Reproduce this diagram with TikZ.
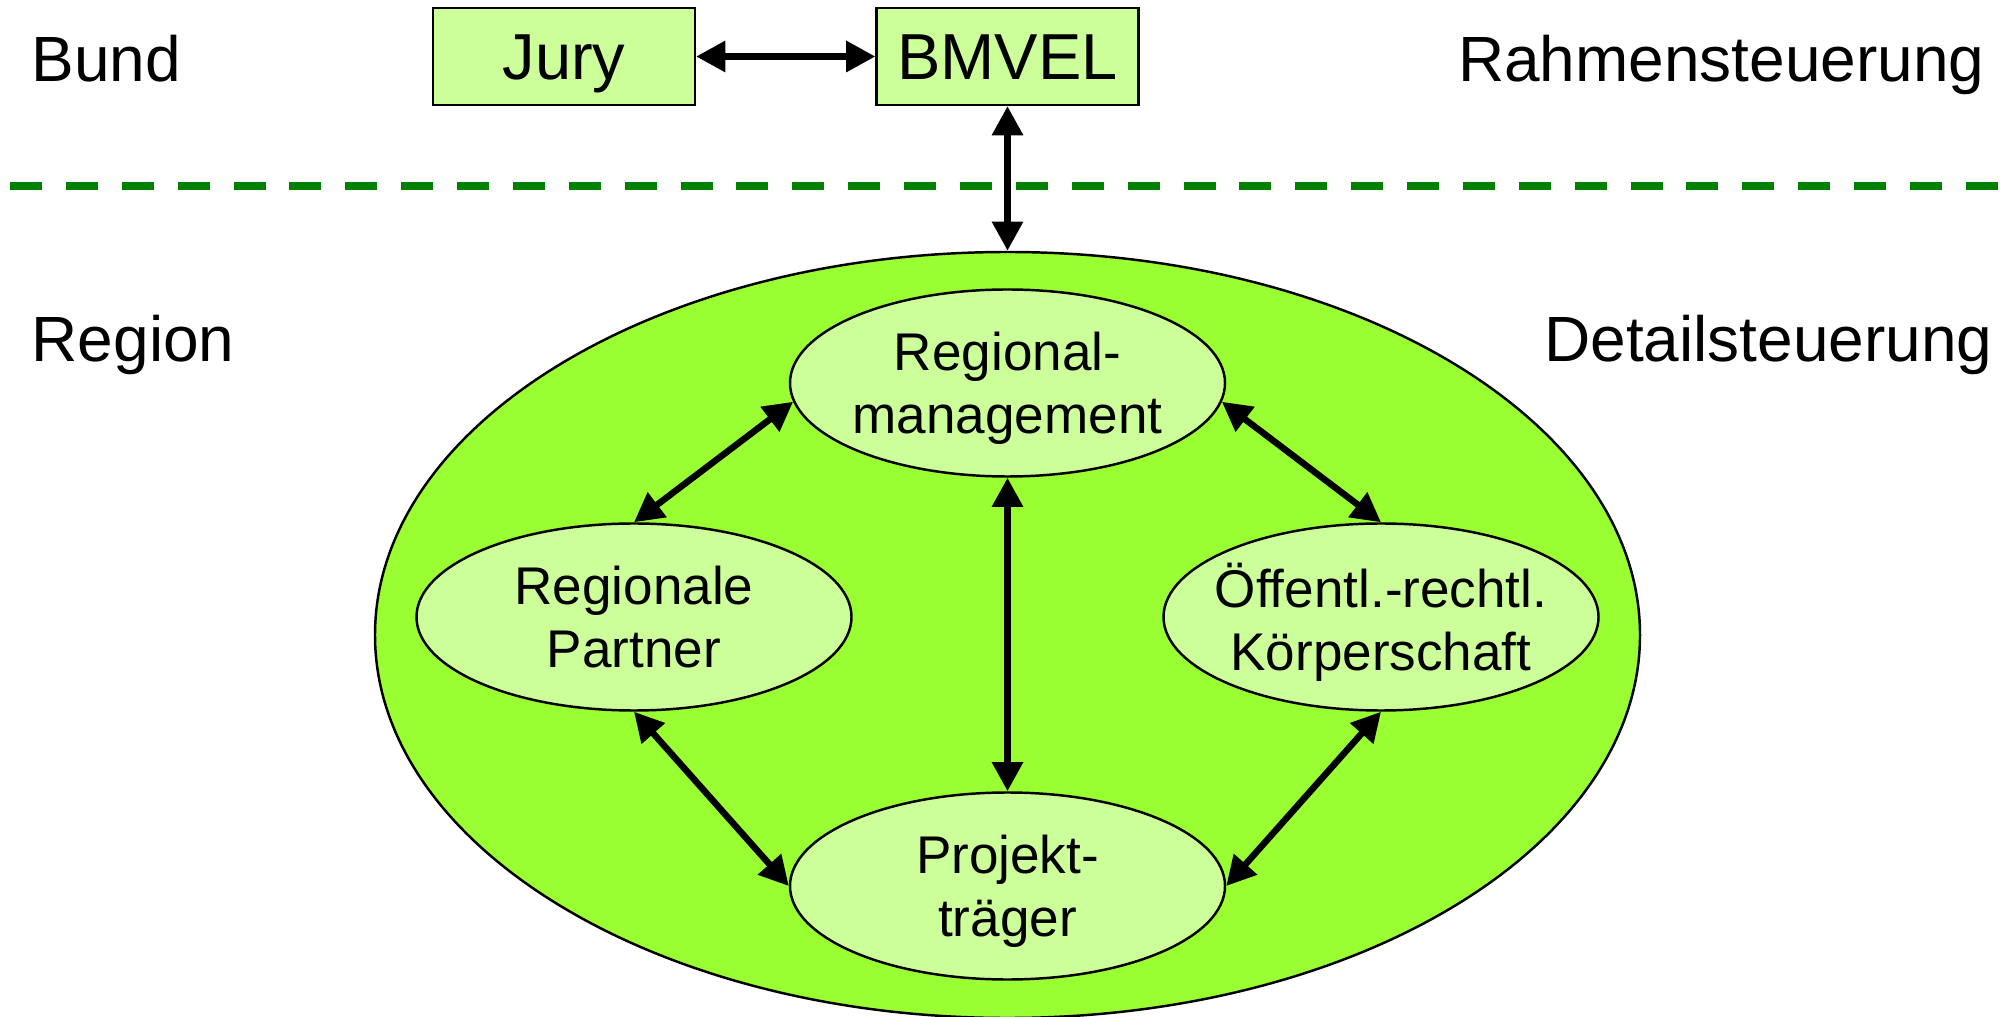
\documentclass[tikz,border=0pt]{standalone}
\usepackage{fontspec}
\setmainfont{Liberation Sans}
\usetikzlibrary{arrows.meta,shapes.geometric}
\definecolor{boxgreen}{HTML}{CCFF99}
\definecolor{regiongreen}{HTML}{99FF33}
\definecolor{linegreen}{HTML}{008000}

\begin{document}
\begin{tikzpicture}[
        box/.style={draw, line width=0.65pt, fill=boxgreen, minimum width=2.62cm, minimum height=0.97cm, inner sep=0pt, text height=13.2pt, text depth=0pt, font=\fontsize{18.5}{22}\selectfont},
        blob/.style={ellipse, draw, line width=0.7pt, fill=boxgreen, inner xsep=-0.15cm, inner ysep=0pt, minimum width=4.35cm, minimum height=1.87cm, align=center, text depth=-2pt, font=\fontsize{15.1}{17.9}\selectfont},
        level/.style={inner sep=0pt, font=\fontsize{18.2}{21}\selectfont},
        link/.style={line width=1.85pt, {Triangle[length=8.3pt,width=8.5pt]}-{Triangle[length=8.3pt,width=8.5pt]}}
    ]
        \useasboundingbox (0,0) rectangle (20.07,10.16);
        % Ebenen
        \node[level, anchor=base west] (bund) at (0.31,9.34) {Bund};
        \node[level, anchor=base east] (rahmen) at (19.85,9.34) {Rahmensteuerung};
        \node[level, anchor=base west] (region) at (0.31,6.54) {Region};
        \node[level, anchor=base east] (detail) at (19.93,6.54) {Detailsteuerung};
        \draw[linegreen, line width=2.3pt, dash pattern=on 9.1pt off 6.8pt] (0.10,8.30) -- (20.00,8.30);
        % Bund
        \node[box] (jury) at (5.64,9.595) {Jury};
        \node[box] (bmvel) at (10.075,9.595) {BMVEL};
        \draw[link] (jury) -- (bmvel);
        % Region
        \node[ellipse, draw, line width=0.7pt, fill=regiongreen, minimum width=12.65cm, minimum height=7.66cm] (reg) at (10.075,3.81) {};
        \draw[link] (bmvel) -- (reg.north);
        \node[blob] (rm) at (10.075,6.33) {Regional-\\management};
        \node[blob] (rp) at (6.34,3.99) {Regionale\\Partner};
        \node[blob] (oe) at (13.81,3.99) {Öffentl.-rechtl.\\Körperschaft};
        \node[blob] (pt) at (10.075,1.30) {Projekt-\\träger};
        \foreach \a/\b in {rm.185/rp.north, rm.355/oe.north, rm.south/pt.north, rp.south/pt.west, oe.south/pt.east}{
            \draw[link] (\a) -- (\b);
        }
    \end{tikzpicture}
\end{document}
